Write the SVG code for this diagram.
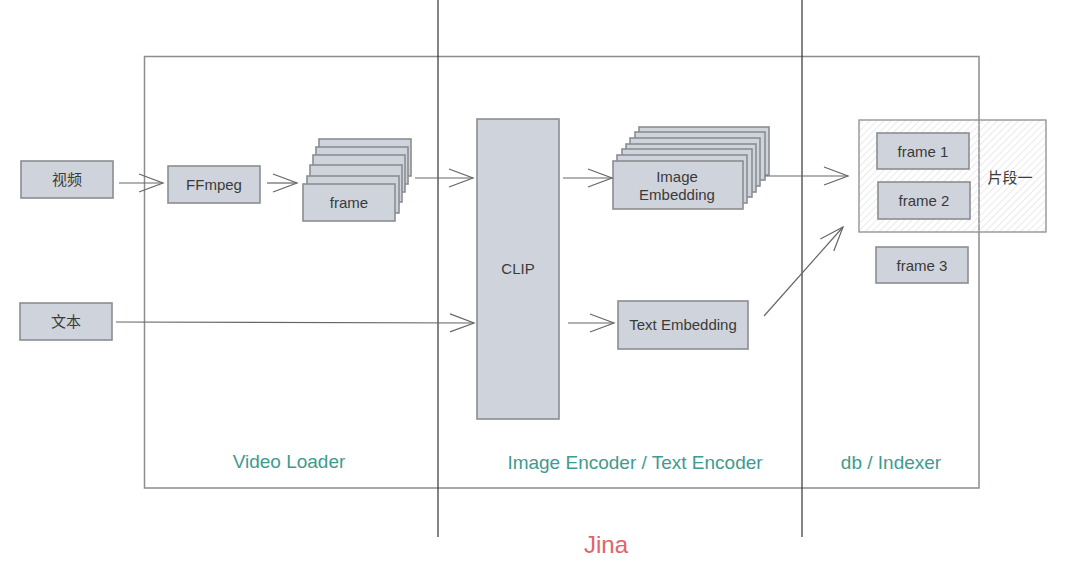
<svg xmlns="http://www.w3.org/2000/svg" width="1080" height="564" viewBox="0 0 1080 564">
<defs>
<marker id="arr" markerUnits="userSpaceOnUse" markerWidth="30" markerHeight="24" refX="26" refY="12" orient="auto" overflow="visible">
<path d="M2,3 L26,12 L2,21" fill="none" stroke="#666" stroke-width="1.2"/>
</marker>
<pattern id="hatch" patternUnits="userSpaceOnUse" width="5" height="5" patternTransform="rotate(45)">
<line x1="0" y1="0" x2="0" y2="5" stroke="#d6d6d6" stroke-width="1"/>
</pattern>
<style>
.box{fill:#cfd4dc;stroke:#8a8d92;stroke-width:1.6}
.t{font-family:"Liberation Sans",Arial,"Noto Sans CJK SC",sans-serif;font-size:15px;fill:#3a3a3a;text-anchor:middle}
.lbl{font-family:"Liberation Sans",Arial,sans-serif;font-size:19px;fill:#3f9a90;text-anchor:middle}
.con{stroke:#666;stroke-width:1.2;fill:none}
</style>
</defs>
<rect width="1080" height="564" fill="#fff"/>
<rect x="144.5" y="56.5" width="834.5" height="431.5" fill="none" stroke="#8a8d92" stroke-width="1.5"/>
<g id="hatched">
<rect x="859" y="120" width="187" height="112" fill="url(#hatch)" stroke="#8a8d92" stroke-width="1.3"/>
<text class="t" x="1010" y="183">片段一</text>
</g>
<line x1="438" y1="0" x2="438" y2="537" stroke="#333" stroke-width="1.2"/>
<line x1="802" y1="0" x2="802" y2="537" stroke="#333" stroke-width="1.2"/>
<g id="video"><rect class="box" x="21" y="161" width="92" height="37"/><text class="t" x="67" y="185">视频</text></g>
<g id="text"><rect class="box" x="20" y="303" width="92" height="37"/><text class="t" x="66" y="327">文本</text></g>
<g id="ffmpeg"><rect class="box" x="168" y="166" width="92" height="37"/><text class="t" x="214" y="190">FFmpeg</text></g>
<g id="frames">
<rect class="box" x="319" y="139" width="92" height="37"/>
<rect class="box" x="316" y="147" width="92" height="37"/>
<rect class="box" x="313" y="155" width="92" height="37"/>
<rect class="box" x="310" y="165" width="92" height="37"/>
<rect class="box" x="307" y="176" width="92" height="37"/>
<rect class="box" x="303" y="184" width="92" height="37"/>
<text class="t" x="349" y="208">frame</text>
</g>
<g id="clip"><rect class="box" x="477" y="119" width="82" height="300"/><text class="t" x="518" y="274">CLIP</text></g>
<g id="image-embedding">
<rect class="box" x="639" y="127" width="130" height="48"/>
<rect class="box" x="635" y="132" width="130" height="48"/>
<rect class="box" x="630" y="138" width="130" height="48"/>
<rect class="box" x="626" y="144" width="130" height="48"/>
<rect class="box" x="622" y="149" width="130" height="48"/>
<rect class="box" x="617" y="155" width="130" height="48"/>
<rect class="box" x="613" y="161" width="130" height="48"/>
<text class="t" x="677" y="182">Image</text>
<text class="t" x="677" y="200">Embedding</text>
</g>
<g id="text-embedding"><rect class="box" x="618" y="301" width="130" height="48"/><text class="t" x="683" y="330">Text Embedding</text></g>
<g id="frame1"><rect class="box" x="877" y="133" width="92" height="36"/><text class="t" x="923" y="157">frame 1</text></g>
<g id="frame2"><rect class="box" x="878" y="182" width="92" height="37"/><text class="t" x="924" y="206">frame 2</text></g>
<g id="frame3"><rect class="box" x="876" y="247" width="92" height="36"/><text class="t" x="922" y="271">frame 3</text></g>
<g id="connectors">
<line class="con" x1="119" y1="183" x2="163" y2="183" marker-end="url(#arr)"/>
<line class="con" x1="267" y1="183" x2="297" y2="183" marker-end="url(#arr)"/>
<line class="con" x1="415" y1="178" x2="473" y2="178" marker-end="url(#arr)"/>
<line class="con" x1="116" y1="322" x2="474" y2="323" marker-end="url(#arr)"/>
<line class="con" x1="563" y1="178" x2="612" y2="178" marker-end="url(#arr)"/>
<line class="con" x1="568" y1="323" x2="614" y2="323" marker-end="url(#arr)"/>
<line class="con" x1="765" y1="176" x2="848" y2="176" marker-end="url(#arr)"/>
<line class="con" x1="764" y1="316" x2="843" y2="227" marker-end="url(#arr)"/>
</g>
<text class="lbl" x="289" y="468">Video Loader</text>
<text class="lbl" x="635" y="469">Image Encoder / Text Encoder</text>
<text class="lbl" x="891" y="469">db / Indexer</text>
<text x="606" y="553" font-family="Liberation Sans,Arial,sans-serif" font-size="24" fill="#e06464" text-anchor="middle">Jina</text>
</svg>
